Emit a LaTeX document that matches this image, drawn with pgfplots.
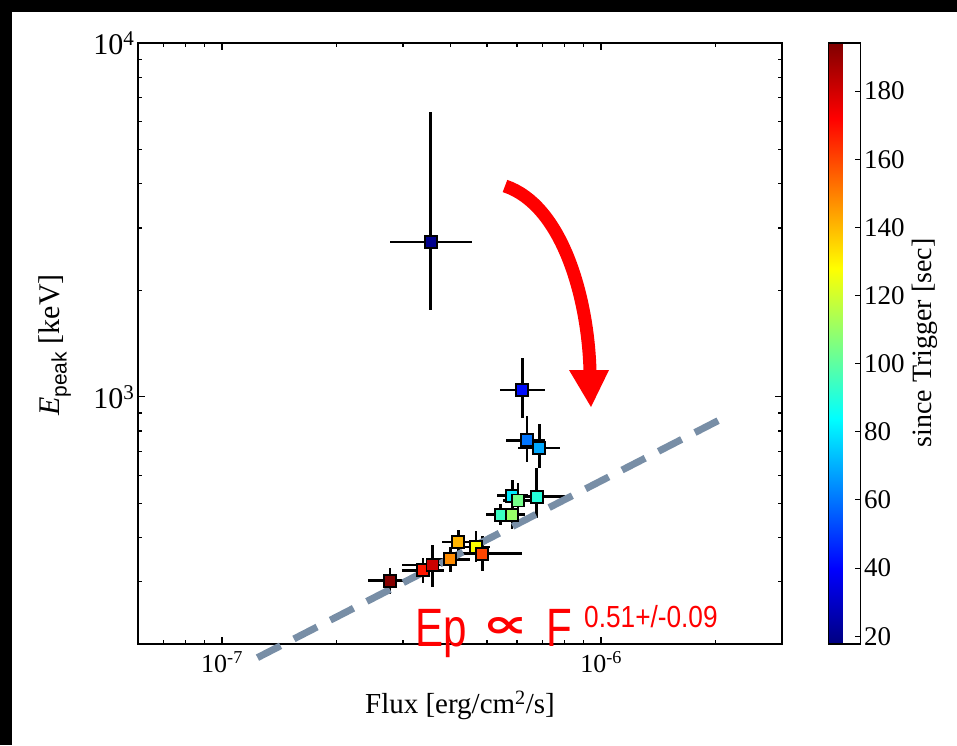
\documentclass[border=0pt]{standalone}
\usepackage{fontspec}
\setmainfont{Liberation Serif}
\newfontfamily\sansf{Liberation Sans}
\newfontfamily\dejavu{DejaVu Sans}
\usepackage{graphicx}
\usepackage{pgfplots}
\pgfplotsset{compat=1.18}
\usepackage{pgfplotstable}
\definecolor{slate}{RGB}{120,142,166}

\pgfplotstableread{
x       xlo     xhi     y    ylo  yhi  t
3.55e-7 2.77e-7 4.56e-7 2740 1763 6380 20
6.20e-7 5.41e-7 7.11e-7 1044 871  1286 42
6.37e-7 5.61e-7 7.10e-7 753  652  884  60
6.87e-7 6.05e-7 7.80e-7 716  630  839  69
5.83e-7 5.30e-7 6.40e-7 525  475  580  80
6.76e-7 5.69e-7 8.03e-7 522  455  630  90
5.43e-7 4.97e-7 5.93e-7 464  433  497  94
6.04e-7 5.50e-7 6.60e-7 509  455  572  104
5.82e-7 5.30e-7 6.30e-7 464  424  508  110
4.67e-7 4.30e-7 5.10e-7 376  340  416  128
4.20e-7 3.81e-7 4.55e-7 389  358  421  141
4.00e-7 3.60e-7 4.50e-7 347  320  376  148
4.86e-7 4.24e-7 6.18e-7 360  321  403  160
3.39e-7 2.98e-7 3.85e-7 323  298  350  168
3.59e-7 2.99e-7 3.99e-7 334  290  382  181
2.77e-7 2.42e-7 3.10e-7 302  277  329  193
}\datatable

\begin{document}
\begin{tikzpicture}[x=1pt,y=1pt]
\useasboundingbox (0,0) rectangle (957,745);
\fill[black] (0,0) rectangle (957,745);
\fill[white] (12,0) rectangle (957,733);
\begin{axis}[
  at={(138pt,101pt)}, anchor=south west,
  scale only axis, width=644pt, height=601pt,
  xmode=log, ymode=log,
  xmin=6e-8, xmax=3e-6, ymin=200, ymax=1e4,
  clip=false,
  axis line style={line width=2pt, black},
  tick style={line width=1.3pt, black},
  tick align=inside,
  major tick length=7pt, minor tick length=4pt,
  xtick={1e-7,1e-6},
  xticklabels={10\textsuperscript{-7},10\textsuperscript{-6}},
  minor xtick={7e-8,8e-8,9e-8,2e-7,3e-7,4e-7,5e-7,6e-7,7e-7,8e-7,9e-7,2e-6},
  ytick={1e3,1e4},
  yticklabels={10\textsuperscript{3},10\textsuperscript{4}},
  minor ytick={300,400,500,600,700,800,900,2000,3000,4000,5000,6000,7000,8000,9000},
  xticklabel style={font=\fontsize{26}{26}\selectfont, yshift=-4pt},
  yticklabel style={font=\fontsize{30}{30}\selectfont},
  colormap/jet,
  point meta min=17.7, point meta max=194.1,
  colorbar,
  colorbar style={
    at={(parent axis.north east)}, anchor=north west, xshift=38pt,
    scale only axis, width=32pt, height=601pt,
    ytick={20,40,60,80,100,120,140,160,180},
    ytick pos=right, tick align=inside,
    major tick length=6pt,
    tick style={line width=1pt, black},
    axis line style={line width=1.5pt, black},
    yticklabel style={font=\fontsize{27}{27}\selectfont, /pgf/number format/assume math mode=true},
  },
]
\addplot[scatter, only marks, mark=square*, mark size=6pt,
  point meta=explicit,
  mark options={line width=1.9pt},
  scatter/use mapped color={draw=black, fill=mapped color},
  error bars/.cd, x dir=both, x explicit, y dir=both, y explicit,
  error mark=none, error bar style={line width=2.5pt, black}]
 table[x=x, y=y, meta=t,
   x error plus expr=\thisrow{xhi}-\thisrow{x},
   x error minus expr=\thisrow{x}-\thisrow{xlo},
   y error plus expr=\thisrow{yhi}-\thisrow{y},
   y error minus expr=\thisrow{y}-\thisrow{ylo}] {\datatable};
\addplot[line width=7pt, color=slate, dash pattern=on 26pt off 15pt]
  coordinates {(1.24e-7,183) (2.11e-6,873)};
\end{axis}
% axis labels
\node[font=\fontsize{29}{30}\selectfont] at (460,40) {Flux [erg/cm\textsuperscript{2}/s]};
\node[rotate=90, font=\fontsize{30}{30}\selectfont] at (55,400) {\textit{E}\textsubscript{\sansf peak} [keV]};
\node[rotate=90, font=\fontsize{28}{28}\selectfont] at (925,402) {since Trigger [sec]};
% arrow
\draw[red, line width=13pt] (505,559) .. controls (562,540) and (588,448) .. (590,374);
\fill[red] (569,375) -- (609,375) -- (591,338) -- cycle;
% relation text
\node[anchor=base west, inner sep=0, text=red, font=\sansf\fontsize{54}{54}\selectfont] at (415,99) {\scalebox{0.78}[1]{Ep}};
\node[inner sep=0, text=red] at (505,118) {\resizebox{46pt}{20pt}{\dejavu\bfseries ∝}};
\node[anchor=base west, inner sep=0, text=red, font=\sansf\fontsize{54}{54}\selectfont] at (546,99) {\scalebox{0.78}[1]{F}};
\node[anchor=base west, inner sep=0, text=red, font=\sansf\fontsize{30.5}{30}\selectfont] at (584,118) {\scalebox{0.86}[1]{0.51+/-0.09}};
\end{tikzpicture}
\end{document}
